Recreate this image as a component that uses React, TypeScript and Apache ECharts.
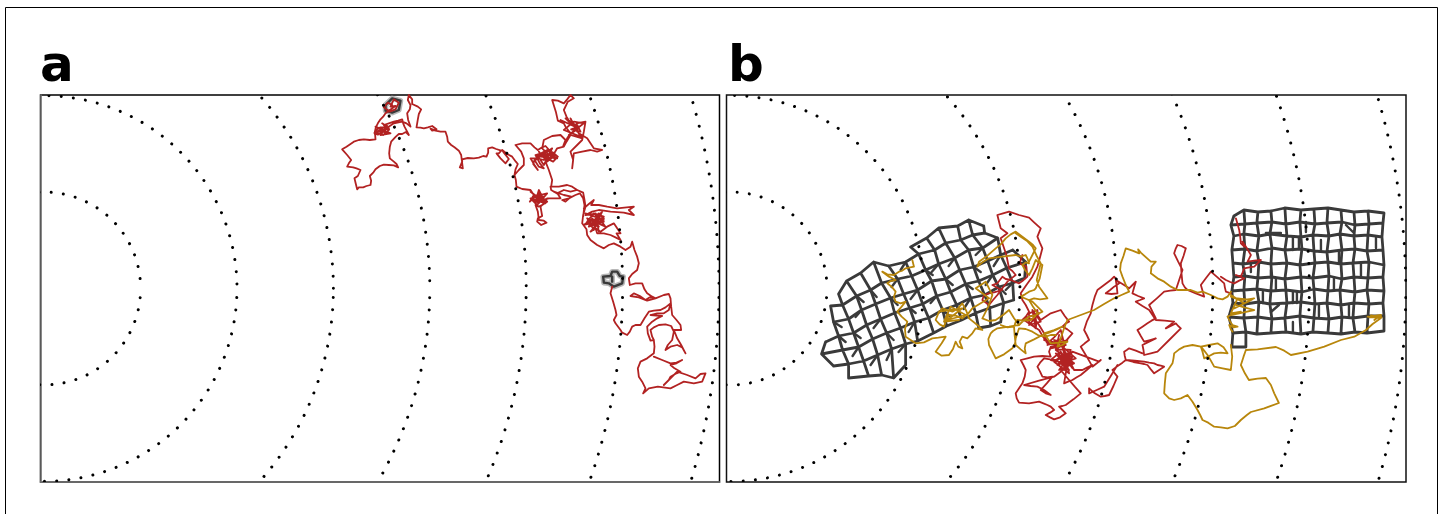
import React, { useEffect, useRef } from "react";
import * as echarts from "echarts";

const panelLabels = ["a", "b"];
const ringRadii = [96.4, 192.8, 289.2, 385.6, 482, 578.4, 674.8];
const ringCentreA = [43.7, 288.5];
const ringCentreB = [730, 288.5];
const ringPhase = [3, 3, 3, 3, 3, 3, 3];

type Crop = [number, number, number[]];
const ZA = [330, 90];
const ZB = [570, 190];
const Z3 = [815, 205];
const Z4 = [1000, 230];
const Z5 = [1220, 200];

const walkA: Crop[] = [
  [ZA[0], ZA[1], [185,45,172,38,160,52,178,65,195,58,205,38,190,28,180,50,195,48,178,60,165,70,158,80,150,88,142,100,136,112,132,130,142,134,150,128,158,135,170,125,176,118,165,112,150,112,140,118,135,125,148,132,155,122,165,130,175,120,160,105,175,100,190,95,203,92,215,88,218,100,222,110,230,125,235,135,226,126,215,132,205,132,196,140,182,155,178,170,176,190,178,205,190,215,198,222,203,232,190,226,175,225,160,224,148,228,135,238,128,248,118,258,122,272,120,285,108,288,98,292,85,292,80,298,76,282,72,265,82,258,90,240,78,235,68,232,50,230,55,220,62,210,50,195,35,178,48,170,70,155,85,150,100,148,118,150,135,148,134,135,132,128,160,120,190,100,215,95,228,100,240,110,233,90,230,70,238,58,240,45,232,30,235,15,245,28,245,42,262,50,272,58,265,72,262,88,258,112,270,113,280,115,292,112,305,108,318,118,305,122,300,116,315,122,330,125,345,125,350,140,352,155,362,165,372,172,385,182,392,195,397,235,388,232,395,215,395,208,412,204,430,205,445,203,458,198,468,200,473,188,473,175,485,172,497,177,512,182,505,190,498,190,510,205,525,220,535,207,520,188,515,180,530,192,545,200,556,215,562,222,555,238,552,255,556,270,558,290,575,297,600,300,610,315,598,335,612,322,625,310,632,330,618,325,640,320,625,340,610,330,635,335,620,315,645,330,650,335,635,345,625,350,615,345,622,365,625,390,640,392,648,398,632,405,620,395,622,385,635,378,630,350,640,340,650,325,672,325,690,325,682,312,662,300,660,290,685,290,710,285,725,290,740,300,720,305,700,300,680,310,670,305,700,315,722,320,705,335,695,330,715,325,735,315,748,310,758,325,762,345,758,380]],
  [ZA[0], ZA[1], [552,255,565,240,580,225,580,205,572,185,555,165,575,160,600,160,612,172,622,180,635,172,645,168,665,190,650,200,640,210,620,205,600,205,612,225,622,240,608,222,612,210,625,230,640,235,628,220,615,195,632,190,650,180,668,188,682,200,668,215,648,205,640,200,660,190,670,205,650,190,635,175,640,150,665,138,690,135,705,150,698,168,710,145,720,130,705,110,700,100,682,92,676,65,665,30,682,32,700,40,710,28,720,15,730,25,712,35,700,60,708,80,720,100,705,85,735,105,745,110,722,118,750,125,738,100,765,95,760,125,755,150,740,165,720,185,728,210,725,235,730,190,755,185,780,180,800,185,815,180,790,175,780,160,770,145,745,130,755,145,720,135,708,155,700,170,680,175,665,200,645,215,655,240,665,270,662,290]],
  [ZA[0], ZA[1], [600,305,640,335,610,320,650,310,620,345,600,325,645,340,625,300,615,335,655,325]],
  [ZA[0], ZA[1], [610,215,650,180,680,205,630,200,665,175,640,225,620,195,675,195,650,215,625,185]],
  [ZA[0], ZA[1], [690,90,745,115,715,135,760,100,730,95,700,120,750,140,720,85,740,125]],
  [ZA[0], ZA[1], [135,110,180,130,150,135,170,105,140,125,175,115,155,100]],
  [ZB[0], ZB[1], [20,0,38,8,42,30,45,50,38,75,35,100,48,118,50,135,60,150,80,165,100,175,115,165,130,160,150,170,165,180,180,170,185,155,192,180,200,200,205,220,200,240,185,252,175,265,178,285,195,280,215,280,222,298,230,310,245,320,255,325,238,322,225,330,208,318,190,310,180,318,205,322,230,332,255,325,280,315,295,312,300,325,302,350,305,375,318,390,330,405,332,420,310,420,315,432,320,445,332,465,345,490,335,472,320,465,300,470,285,480,292,465,305,450,310,425,302,408,285,403,265,405,250,412,240,420,245,440,250,450,240,452,232,430,230,410,245,395,260,385,275,378,240,375,260,370,280,370,295,360,300,340,285,352,270,360,250,362,235,365,222,385,210,405,195,405,185,410,178,425,170,435,155,428,150,420,135,400,130,390,138,375,135,360,128,335,120,310,125,290]],
  [ZB[0], ZB[1], [40,55,55,42,70,30,62,45,85,45,110,50,140,55,190,50,175,60,190,75,160,68,120,65,100,62,85,60,65,65,45,75,70,72,90,75,80,88,70,95,85,70,100,85,60,90,40,105,60,100,75,110,85,98,60,125,75,115,90,125,110,110,130,100,140,115,150,130,138,130,150,150,135,142,120,135,100,130,80,130,70,100,100,80,70,70,50,95,85,110,65,85,55,110,100,95]],
  [ZB[0], ZB[1], [45,70,100,90,60,105,95,65,70,120,50,85,105,110,75,70,85,125]],
  [ZB[0], ZB[1], [250,450,252,470,250,490,230,505,210,515,202,535,205,560,215,575,225,595,218,610,235,595,262,590,300,595,320,585,340,575,370,580,395,575,405,550,390,552,375,565,350,555,320,545,300,565,280,585,295,570,300,560,318,550,330,545,312,535,300,525,318,520,335,510,318,518,300,520,275,510,250,500]],
];

const greyCellsA: Crop[] = [
  [ZA[0], ZA[1], [165,45,185,25,210,32,205,60,185,68,165,62,165,45]],
  [ZB[0], ZB[1], [98,260,120,258,125,245,140,245,148,258,158,260,155,280,130,290,115,280,100,278,98,260]],
  [ZB[0], ZB[1], [125,260,125,275]],
];

const goldWalk: Crop[] = [
  [Z3[0], Z3[1], [290,165,295,185,280,188,270,190,258,198,250,200,235,210,215,208,200,200,220,215,240,225,225,228,215,235,228,245,240,260,235,275,240,290,255,295,270,290,258,305,245,320,258,335,275,350,268,372,270,395,285,405,300,415,325,412,350,400,368,398,390,395,378,415,360,440,378,452,400,450,412,432,420,410,428,425,440,430,432,410,440,395,455,400,470,385,480,370,500,375,485,360,460,340,452,318,440,295,425,312,410,320,395,315,380,310,368,325,360,345,372,358,385,365,392,345,400,330,420,332,440,340,458,325,470,310,495,295,520,280,500,265,480,250,495,240,510,230,520,250,530,270,518,305,500,340,520,348,540,345,562,330,580,315,595,340,610,360,580,365,545,370,532,378,525,385,518,402,520,420,530,440,540,460,565,448,590,430,598,415,600,400,605,385,610,370,630,372,650,380,670,392,690,395,705,390,720,390]],
  [Z3[0], Z3[1], [370,320,440,310,395,345,450,330,405,305,385,350,430,345]],
  [Z3[0], Z3[1], [610,360,625,345,640,335,660,330,680,320,665,305,650,290,632,282,615,275,628,268,640,260,655,255,660,250,672,220,680,180,668,172,660,165,650,190,640,210,628,195,620,180,630,172,640,175,635,160,630,150,615,155,600,150,560,155,520,160,500,172,485,185,490,170,515,152,540,130,555,118,570,100,585,88,600,80,620,95,640,110,652,120,660,130,650,150,640,170]],
  [Z4[0], Z4[1], [0,285,20,292,40,290,45,275,50,270,70,272,90,270,100,262,110,250,98,232,85,210,100,205,118,208,140,205,128,188,115,170,108,150,120,100,108,78,95,50,78,32,60,20,45,10]],
  [Z4[0], Z4[1], [40,290,42,318,45,345,60,358,75,370,72,355,75,340,100,328,125,315,145,308,165,300,185,290,160,300,130,310,140,325,150,340,175,338,200,335,185,345,170,350,180,325,190,295,195,282,200,270,240,255,280,240,310,222,340,205,362,195,385,185,375,165,365,140,358,120,360,100,368,78,375,55,395,62,415,70,412,58,420,68,450,95,465,95,452,110,450,130,470,145,490,155,510,170,530,180,550,180,570,180,590,188,605,185,630,195,650,205,665,208,680,200,690,185]],
  [Z5[0], Z5[1], [30,290,45,296,60,300,80,298,100,295,82,305,70,310,55,318,45,315,70,322,100,330,65,338,30,345,20,350,28,365,35,375,50,380,38,382,25,375,30,388,35,395]],
  [Z5[0], Z5[1], [30,285,70,310,40,325,90,300,50,295,30,340,60,335]],
  [Z4[0], Z4[1], [690,345,694,380,690,420,665,415,640,410,630,392,620,375,610,362,600,350,625,345,650,340,668,352,680,370,660,368,640,370,625,378,610,385,605,365,600,350,575,345,550,350,535,358,520,370,518,385,515,400,505,415,495,430,492,460,490,490,505,505,520,510,540,505,560,495,575,515,590,540,598,555,605,570,622,578,640,590,660,592,680,595,702,588,720,570]],
  [Z5[0], Z5[1], [60,660,78,645,90,636,130,625,174,609,160,580,150,555,135,534,110,536,84,540,72,520,60,495,68,470,75,450,110,448,165,441,190,452,210,465,260,455,310,440,360,420,400,410,435,390,455,372,480,354,450,350,480,345,460,360]],
  [Z5[0], Z5[1], [440,350,480,348,445,352,482,352,450,346]],
];

const redWalk: Crop[] = [
  [Z3[0], Z3[1], [620,150,612,175,632,185,635,215,620,228,610,235,585,225,570,222,560,215,545,235,530,240,548,250,560,255,535,262,520,265,505,270,500,285,520,300,532,285,545,270,560,250,575,230,590,218,600,210,590,198,580,190,572,150,555,100,575,85,555,70,550,50,545,30,562,25,580,20,610,30,640,38,655,52,675,70,665,95,672,112,680,130,672,160,665,185,650,215,632,240,615,265,620,285,630,300,640,320,630,335,620,345,640,345,660,340,662,355,660,370,640,350,640,320]],
  [Z4[0], Z4[1], [85,250,98,245,110,240,112,258,120,270,150,250,180,240,192,258,205,275,195,280,185,290,200,298,215,310,202,325,190,340,185,320,180,300,160,322,140,340,135,325,130,310,115,285,100,265,85,268,70,270,92,285,115,300,128,322,140,340,165,345,180,335,160,330,190,350,150,350,145,365,150,380,125,378,100,380,80,385,60,390,68,405,75,420,72,440,65,460,55,475,45,490,48,505,55,518,85,520,115,515,128,520,140,525,150,530,160,540,148,548,135,555,148,562,160,568,178,562,195,550,185,540,175,530,185,528,195,525,218,508,240,490,222,470,205,450,192,435,180,420,198,410,215,400,208,385,200,370,182,380,165,390,148,388,130,385,118,398,110,410,118,425,125,440,140,442,155,440,138,460,120,480,135,490,150,495,130,480,110,470,90,468,70,465,115,452,160,440,180,425,200,410,195,385,190,360,205,390,220,420,232,420,245,420,260,412,275,405,258,420,240,435,228,442,215,450,202,455,190,460,195,430,200,400,190,390,180,380,198,378,215,380,205,400,195,420,182,390,170,360,190,358,210,360,200,385,190,410,200,402,210,395,188,382,165,370,185,395,205,420,192,410,180,400,198,382,215,365,255,380,295,395,300,390,288,400,275,410,258,380,240,350,252,340,265,330,258,315,250,300,258,275,270,250,272,238,275,225,282,200,290,180,310,165,330,150,340,140,348,150,355,160,348,165,340,170,328,180,315,190,332,192,350,190,348,170,345,150,365,162,385,175,395,165,405,155,400,172,395,190,412,198,430,205,418,210,405,215,425,228,445,240,455,255,465,270,492,272,520,275,508,285,495,295,510,288,525,280,532,288,540,295,505,330,470,365,450,370,430,375,428,360,425,345,445,335,465,325,448,330,430,335,420,318,410,300,425,290,440,280,452,272,465,265,455,245,445,225,468,205,490,185,508,182,525,180,535,150,545,120,532,95,520,70,525,55,530,45,542,48,555,55,548,78,540,100,542,130,545,160,552,172,560,180,585,190,610,200,605,182,600,165,615,145,630,125,650,142,670,160,672,172,675,185,690,190]],
  [Z4[0], Z4[1], [165,360,220,400,175,420,215,365,160,395,205,430,185,350,225,385,170,405,200,370,215,415,180,365,150,390,195,400]],
  [Z4[0], Z4[1], [130,330,195,345,150,355,185,325,140,345,200,330,165,360,175,315]],
  [Z4[0], Z4[1], [70,265,115,250,85,285,120,275,95,240,105,295]],
  [Z4[0], Z4[1], [265,475,282,490,300,500,312,498,325,495,338,468,350,440,342,430,335,420,345,412,355,405,365,398,375,390,398,396,420,400,430,402,440,405,450,418,460,430,475,420,490,410,480,407,470,405,460,400,445,398,430,395,402,392,375,390,372,378,370,365,378,360,385,355,405,362,425,370]],
  [Z4[0], Z4[1], [350,405,330,438,310,470,288,480,265,490,265,475]],
  [Z5[0], Z5[1], [45,55,50,72,55,90,58,110,60,130,70,140,65,125,78,145,90,165,85,175,80,185,100,182,120,180,110,190,100,200,85,202,70,205,65,218,60,230,45,225,70,235,55,242,40,250,28,246,15,240,0,230]],
];

const _ = null;
const leftRows: ([number, number] | null)[][] = [
  [_,_,_,_,_,_,_,_,[910,247],[926,238],[938,228],[957,226],[968,220],[983,226],_],
  [_,_,[838,294],[846,281],[860,273],[873,262],[888,266],[905,262],[918,254],[934,250],[945,243],[960,240],[972,235],[984,233],_],
  [_,[830,306],[842,305],[856,296],[870,290],[881,283],[897,279],[911,276],[925,270],[938,264],[954,258],[968,250],[982,248],[997,238],_],
  [_,[833,322],[848,319],[861,310],[875,304],[890,298],[903,294],[917,290],[931,281],[945,279],[959,270],[973,267],[987,261],[1000,255],[1012,250]],
  [[825,342],[838,336],[853,333],[866,325],[880,319],[894,313],[909,308],[922,304],[936,296],[950,292],[965,284],[978,281],[992,275],[1006,268],[1025,262]],
  [[821,354],[842,350],[858,347],[872,339],[886,333],[900,328],[914,322],[928,318],[942,310],[956,305],[970,298],[984,295],[998,287],[1012,283],[1024,278]],
  [[833,366],[848,364],[863,361],[877,355],[891,349],[905,344],[917,341],[933,333],[946,326],[961,320],[975,313],[989,308],[1003,303],[1013,300],_],
  [_,[848,378],[868,376],[881,375],[893,378],[905,365],_,_,_,_,[978,328],[990,326],[1000,322],_,_],
];
const leftStubs: [number, number][][] = [
  [[856,296],[863,302]],[[870,290],[876,297]],[[897,279],[891,287]],[[925,270],[932,275]],[[954,258],[948,266]],[[982,248],[975,255]],[[861,310],[855,317]],[[890,298],[897,305]],[[917,290],[910,299]],[[945,279],[952,285]],[[973,267],[980,272]],[[1000,255],[993,266]],[[853,333],[860,338]],[[880,319],[873,328]],[[909,308],[915,313]],[[936,296],[930,303]],[[965,284],[972,289]],[[992,275],[985,285]],[[858,347],[852,356]],[[886,333],[893,340]],[[914,322],[908,332]],[[942,310],[949,316]],[[970,298],[963,309]],[[998,287],[1005,294]],[[877,355],[870,365]],[[905,344],[898,352]],[[838,336],[845,342]],[[833,322],[841,327]],[[891,349],[886,360]],[[1012,283],[1005,290]],[[938,264],[931,272]],[[905,262],[900,270]],
];

const rightRows: [number, number][][] = [
  [[1233,216],[1243,210],[1257,212],[1270,211],[1284,208],[1300,210],[1313,209],[1327,208],[1340,210],[1353,212],[1367,211],[1383,213]],
  [[1230,225],[1244,224],[1256,223],[1271,222],[1285,224],[1299,222],[1314,224],[1326,223],[1341,222],[1354,225],[1368,224],[1382,223]],
  [[1233,236],[1243,234],[1258,236],[1269,234],[1286,236],[1300,237],[1312,235],[1328,236],[1339,234],[1353,236],[1367,235],[1381,237]],
  [[1231,250],[1244,249],[1256,251],[1271,248],[1284,250],[1301,249],[1313,251],[1326,252],[1341,250],[1354,249],[1366,251],[1382,250]],
  [[1232,263],[1242,264],[1258,262],[1270,264],[1286,263],[1299,265],[1314,263],[1327,262],[1340,264],[1352,263],[1368,262],[1383,265]],
  [[1233,277],[1244,276],[1257,278],[1271,277],[1284,279],[1300,277],[1312,278],[1328,276],[1341,279],[1353,277],[1367,278],[1382,277]],
  [[1231,291],[1243,290],[1256,289],[1270,291],[1285,290],[1301,292],[1313,289],[1327,291],[1339,290],[1354,292],[1366,290],[1383,291]],
  [[1232,303],[1244,304],[1258,302],[1269,304],[1286,303],[1300,302],[1314,304],[1326,303],[1340,305],[1353,303],[1368,304],[1382,303]],
  [[1228,317],[1243,318],[1257,317],[1271,319],[1284,318],[1299,316],[1313,318],[1328,319],[1341,317],[1352,318],[1367,316],[1383,316]],
  [[1232,333],[1245,332],[1256,334],[1270,333],[1285,332],[1300,334],[1312,332],[1327,333],[1340,334],[1354,332],[1366,333],[1383,331]],
];
const rightExtra: [number, number][] = [[1232,333],[1231,347],[1245,347],[1245,332]];
const rightStubs: [number, number][][] = [
  [[1292,237],[1292,250]],[[1298,237],[1298,249]],[[1292,292],[1292,303]],[[1296,292],[1296,303]],[[1333,278],[1333,290]],[[1338,251],[1338,263]],[[1270,270],[1270,277]],[[1275,279],[1275,290]],[[1292,322],[1292,332]],[[1265,233],[1280,233]],[[1305,222],[1305,232]],[[1320,240],[1320,250]],[[1262,292],[1262,303]],[[1348,305],[1348,316]],[[1360,264],[1360,276]],[[1375,238],[1375,248]],[[1250,263],[1250,272]],[[1318,305],[1318,316]],[[1278,305],[1270,312]],[[1345,225],[1352,232]],
];

const BREAK: [number, number] = [NaN, NaN];
function fromCrops(crops: Crop[]) {
  const out: [number, number][] = [];
  for (const [ox, oy, v] of crops) {
    for (let i = 0; i < v.length; i += 2) out.push([ox + v[i] / 3, oy + v[i + 1] / 3]);
    out.push(BREAK);
  }
  return out;
}
function meshLines(rows: ([number, number] | null)[][]) {
  const out: [number, number][] = [];
  for (const row of rows) {
    for (const p of row) out.push(p ?? BREAK);
    out.push(BREAK);
  }
  const n = rows[0].length;
  for (let c = 0; c < n; c++) {
    for (const row of rows) out.push(row[c] ?? BREAK);
    out.push(BREAK);
  }
  return out;
}
function pieces(list: [number, number][][]) {
  const out: [number, number][] = [];
  for (const p of list) out.push(...p, BREAK);
  return out;
}

const FIRE = "#b22222";
const GOLD = "#b8860b";
const GREY = "#3a3a3a";

function line(grid: number, data: any[], color: string, width: number, z = 2, opacity = 1) {
  return {
    type: "line", xAxisIndex: grid, yAxisIndex: grid, data, showSymbol: false, symbol: "none",
    connectNulls: false, silent: true, z, clip: true,
    lineStyle: { color, width, opacity, join: "round", cap: "round" },
  };
}
function rings(grid: number, centre: number[]) {
  return {
    type: "custom", xAxisIndex: grid, yAxisIndex: grid, clip: true, silent: true, z: 5,
    data: ringRadii.map((r, i) => [centre[0], centre[1], r, ringPhase[i]]),
    encode: { x: 0, y: 1 },
    renderItem: (_p: any, api: any) => {
      const c = api.coord([api.value(0), api.value(1)]);
      const r = api.size([api.value(2), 0])[0];
      return {
        type: "circle",
        shape: { cx: c[0], cy: c[1], r },
        style: { fill: "none", stroke: "#000", lineWidth: 3, lineCap: "round", lineDash: [0.01, 12.2], lineDashOffset: api.value(3) },
      };
    },
  };
}

export default function App() {
  const ref = useRef<HTMLDivElement>(null);
  useEffect(() => {
    const chart = echarts.init(ref.current!, undefined, { renderer: "svg" });
    const frameAxis = (min: number, max: number, inverse = false, line = false) => ({
      type: "value", min, max, inverse, splitLine: { show: false }, axisTick: { show: false }, axisLabel: { show: false },
      axisLine: { show: line, onZero: false, lineStyle: { color: "#777", width: 1.5 } },
    });
    const label = { fontFamily: "DejaVu Sans", fontWeight: "bold", fontSize: 50, color: "#000" };
    chart.setOption({
      animation: false,
      backgroundColor: "#fff",
      title: [
        { text: panelLabels[0], left: 35, top: 34, textStyle: label },
        { text: panelLabels[1], left: 723, top: 34, textStyle: label },
      ],
      grid: [
        { left: 40.5, top: 95, width: 679, height: 387, show: true, borderColor: "#000", borderWidth: 1.5, backgroundColor: "#fff" },
        { left: 726.5, top: 95, width: 679.5, height: 387, show: true, borderColor: "#111", borderWidth: 1.5, backgroundColor: "#fff" },
      ],
      xAxis: [{ ...frameAxis(40, 719, false, true), gridIndex: 0 }, { ...frameAxis(726, 1405), gridIndex: 1 }],
      yAxis: [{ ...frameAxis(95, 482, true, true), gridIndex: 0 }, { ...frameAxis(95, 482, true), gridIndex: 1 }],
      graphic: [{ type: "polyline", shape: { points: [[5.5, 514], [5.5, 7.5], [1437.5, 7.5], [1437.5, 514]] }, style: { fill: "none", stroke: "#000", lineWidth: 1 }, silent: true }],
      series: [
        line(0, fromCrops(greyCellsA), "#999", 5.5, 1, 0.7),
        line(0, fromCrops(greyCellsA), GREY, 2.4, 2),
        line(0, fromCrops(walkA), FIRE, 1.8, 3),
        rings(0, ringCentreA),
        line(1, meshLines(leftRows), GREY, 2.8, 2),
        line(1, pieces(leftStubs), GREY, 2.4, 2),
        line(1, meshLines(rightRows), GREY, 2.8, 2),
        line(1, rightExtra, GREY, 2.8, 2),
        line(1, pieces(rightStubs), GREY, 2.4, 2),
        line(1, fromCrops(redWalk), FIRE, 1.8, 3),
        line(1, fromCrops(goldWalk), GOLD, 1.8, 4),
        rings(1, ringCentreB),
      ],
    });
    return () => chart.dispose();
  }, []);
  return <div ref={ref} style={{ position: "fixed", left: 0, top: 0, width: 1443, height: 514 }} />;
}
